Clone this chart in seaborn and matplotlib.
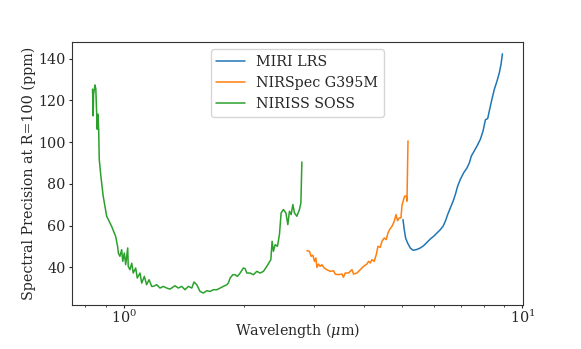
import matplotlib
matplotlib.use('Agg')
import matplotlib.pyplot as plt
import seaborn as sns

# значения
miri_wl = [5.015, 5.052, 5.091, 5.150, 5.231, 5.314, 5.416, 5.543, 5.650, 5.762,
           5.873, 5.987, 6.105, 6.223, 6.321, 6.406, 6.492, 6.594, 6.698, 6.787,
           6.878, 6.987, 7.121, 7.263, 7.360, 7.446, 7.545, 7.695, 7.844, 7.967,
           8.074, 8.182, 8.277, 8.393, 8.505, 8.639, 8.755, 8.842, 8.908]
miri_prec = [62.9, 58.1, 54.1, 51.7, 49.3, 48.2, 48.5, 49.3, 50.4, 52.0,
             53.6, 54.9, 56.5, 58.1, 59.7, 62.1, 65.3, 68.5, 71.7, 74.9,
             78.9, 82.2, 85.3, 87.7, 90.1, 93.4, 95.3, 98.2, 101.4, 105.4,
             110.7, 111.3, 115.8, 120.9, 125.4, 129.4, 133.4, 137.5, 142.3]

nirspec_wl = [2.878, 2.921, 2.950, 2.980, 3.007, 3.032, 3.049, 3.078, 3.108, 3.139,
              3.181, 3.231, 3.293, 3.357, 3.390, 3.456, 3.524, 3.556, 3.592, 3.661,
              3.734, 3.768, 3.843, 3.917, 3.993, 4.072, 4.110, 4.151, 4.192, 4.248,
              4.297, 4.340, 4.398, 4.441, 4.501, 4.553, 4.598, 4.641, 4.706, 4.769,
              4.816, 4.860, 4.908, 4.957, 4.986, 5.032, 5.061, 5.111, 5.132, 5.162]
nirspec_prec = [48.0, 47.7, 45.3, 45.8, 42.9, 44.5, 40.0, 41.6, 40.5, 41.3,
                39.7, 38.9, 38.1, 38.4, 36.8, 36.5, 36.8, 35.3, 37.3, 37.3,
                38.9, 36.8, 37.3, 38.9, 40.5, 41.6, 42.9, 42.1, 43.7, 42.9,
                46.1, 50.1, 49.6, 52.5, 54.1, 53.3, 56.5, 58.1, 59.7, 62.1,
                65.3, 62.4, 63.7, 63.7, 69.7, 72.5, 74.1, 74.1, 71.7, 100.6]

niriss_wl = [0.834, 0.837, 0.839, 0.846, 0.850, 0.854, 0.857, 0.860, 0.864, 0.867,
             0.875, 0.887, 0.905, 0.931, 0.953, 0.964, 0.968, 0.977, 0.987, 0.993,
             1.002, 1.010, 1.022, 1.025, 1.035, 1.046, 1.055, 1.070, 1.080, 1.097,
             1.108, 1.125, 1.140, 1.156, 1.174, 1.185, 1.208, 1.232, 1.255, 1.280,
             1.305, 1.343, 1.369, 1.396, 1.423, 1.451, 1.480, 1.499, 1.523, 1.552,
             1.582, 1.614, 1.645, 1.676, 1.710, 1.743, 1.776, 1.812, 1.828, 1.847,
             1.876, 1.901, 1.926, 1.957, 1.994, 2.014, 2.034, 2.073, 2.113, 2.155,
             2.197, 2.239, 2.283, 2.337, 2.354, 2.372, 2.396, 2.428, 2.456, 2.480,
             2.513, 2.549, 2.578, 2.602, 2.628, 2.654, 2.679, 2.716, 2.757, 2.780,
             2.796]
niriss_prec = [125.4, 112.6, 123.0, 127.4, 125.4, 114.2, 106.2, 113.4, 106.2, 91.8,
               83.8, 74.1, 64.5, 59.7, 54.9, 50.1, 46.9, 45.3, 48.5, 42.9,
               46.9, 41.3, 49.3, 40.5, 38.9, 42.0, 37.3, 39.7, 34.9, 37.3,
               32.5, 35.7, 31.7, 34.1, 30.9, 30.9, 31.7, 30.1, 30.9, 30.1,
               29.6, 31.2, 30.1, 30.9, 29.3, 30.9, 30.1, 33.0, 31.7, 28.5,
               27.7, 28.8, 28.5, 29.3, 29.3, 30.1, 30.9, 31.7, 32.5, 34.9,
               36.5, 36.5, 35.7, 37.3, 39.7, 39.4, 37.3, 37.3, 36.5, 38.1,
               37.3, 38.1, 40.5, 43.7, 52.5, 47.7, 50.9, 50.1, 55.7, 66.1,
               67.7, 66.1, 60.5, 66.9, 65.3, 70.1, 66.1, 64.5, 67.7, 70.9,
               90.5]

sns.set_style('ticks')
plt.rcParams['font.family'] = ['DejaVu Serif']
plt.rcParams['mathtext.fontset'] = 'dejavuserif'
plt.rcParams['axes.edgecolor'] = '0.2'

colors = sns.color_palette('tab10')
fs = 10.3

fig, ax = plt.subplots(figsize=(5.81, 3.49), dpi=100)
fig.subplots_adjust(left=0.124, right=0.900, bottom=0.126, top=0.880)

sns.lineplot(x=miri_wl, y=miri_prec, color=colors[0], label='MIRI LRS', lw=1.1, ax=ax, sort=False)
sns.lineplot(x=nirspec_wl, y=nirspec_prec, color=colors[1], label='NIRSpec G395M', lw=1.1, ax=ax, sort=False)
sns.lineplot(x=niriss_wl, y=niriss_prec, color=colors[2], label='NIRISS SOSS', lw=1.1, ax=ax, sort=False)

ax.set_xscale('log')
ax.set_yticks([40, 60, 80, 100, 120, 140])
ax.tick_params(labelsize=fs, length=2.5, pad=2)
ax.tick_params(axis='x', pad=0.5)
ax.tick_params(which='minor', length=1.5)
ax.set_xlabel(r'Wavelength ($\mu$m)', fontsize=fs, labelpad=-4)
ax.set_ylabel('Spectral Precision at R=100 (ppm)', fontsize=fs, labelpad=1.5)
ax.legend(loc='upper center', fontsize=fs)

plt.savefig('out.png', dpi=100)
